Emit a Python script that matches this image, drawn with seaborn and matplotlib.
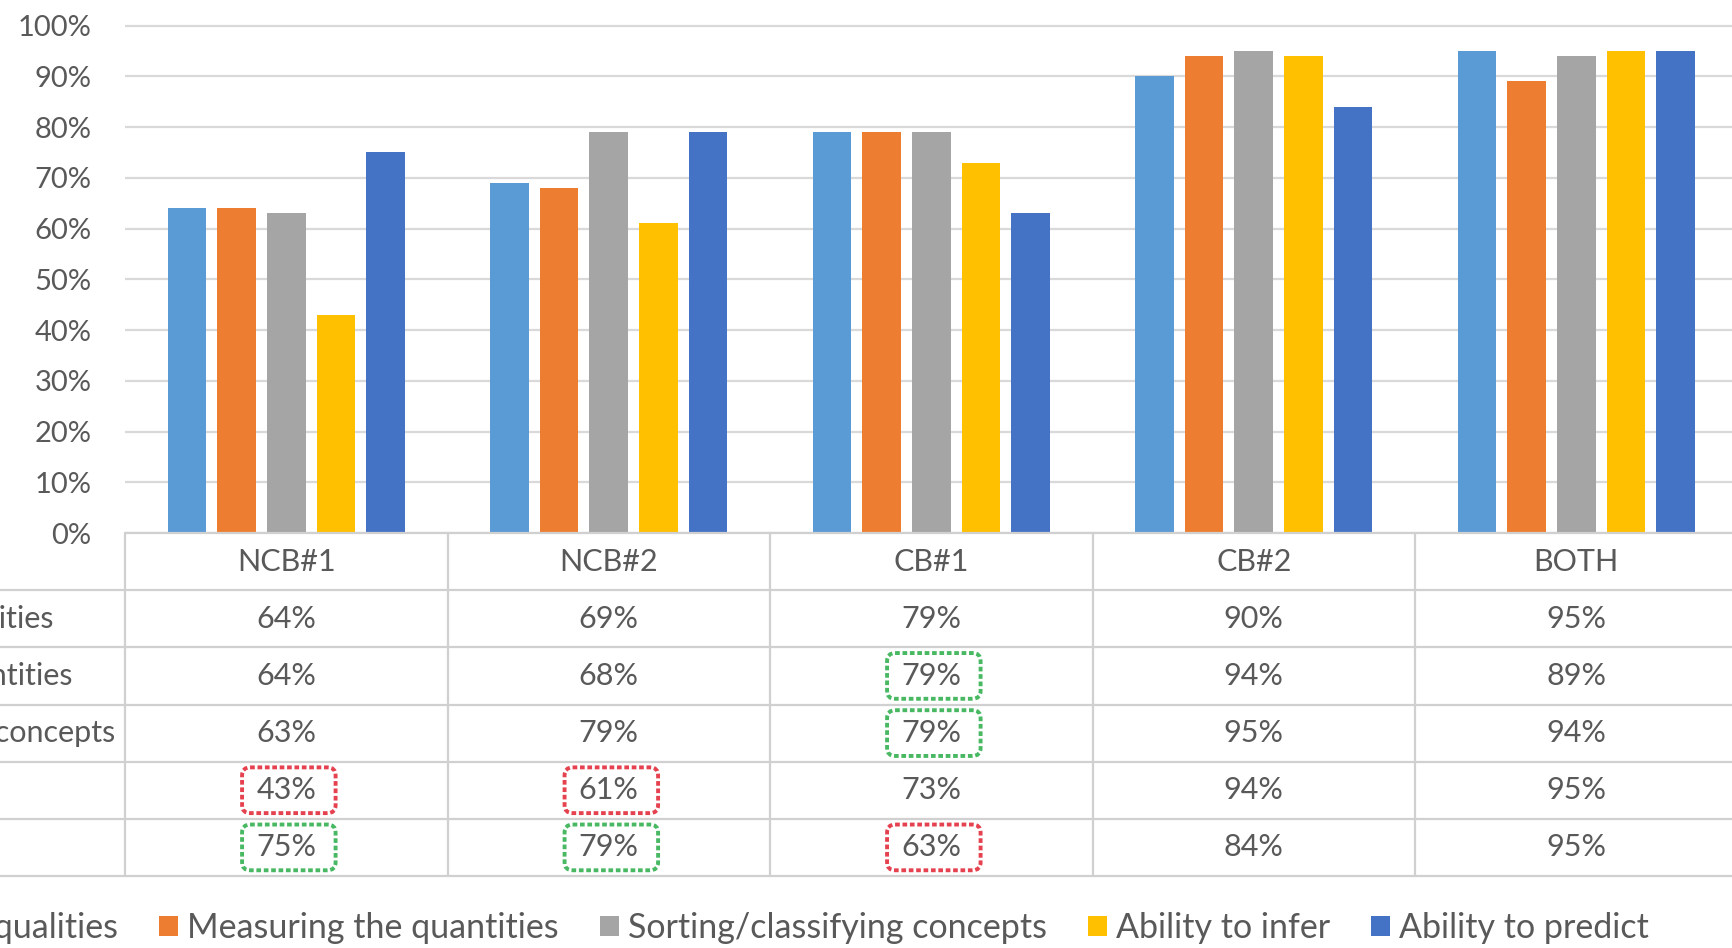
import matplotlib
matplotlib.use("Agg")
import matplotlib.pyplot as plt
import matplotlib.transforms as mtransforms
from matplotlib.patches import FancyBboxPatch, Patch
import pandas as pd
import seaborn as sns

# ---- data -------------------------------------------------------------
groups = ["NCB#1", "NCB#2", "CB#1", "CB#2", "BOTH"]
skills = ["Describing the qualities", "Measuring the quantities",
          "Sorting/classifying concepts", "Ability to infer", "Ability to predict"]
describing = [0.64, 0.69, 0.79, 0.90, 0.95]
measuring = [0.64, 0.68, 0.79, 0.94, 0.89]
sorting = [0.63, 0.79, 0.79, 0.95, 0.94]
infer = [0.43, 0.61, 0.73, 0.94, 0.95]
predict = [0.75, 0.79, 0.63, 0.84, 0.95]
y_ticks = [0.0, 0.1, 0.2, 0.3, 0.4, 0.5, 0.6, 0.7, 0.8, 0.9, 1.0]

# table cells circled in the original: (group, skill, colour)
highlights = [
    ("NCB#1", "Ability to infer", "red"),
    ("NCB#1", "Ability to predict", "green"),
    ("NCB#2", "Ability to infer", "red"),
    ("NCB#2", "Ability to predict", "green"),
    ("CB#1", "Measuring the quantities", "green"),
    ("CB#1", "Sorting/classifying concepts", "green"),
    ("CB#1", "Ability to predict", "red"),
]

palette = ["#5B9BD5", "#ED7D31", "#A5A5A5", "#FFC000", "#4472C4"]
box_colors = {"red": "#E5414F", "green": "#48B862"}
TXT = "#595959"
GRID = "#D9D9D9"

series = [describing, measuring, sorting, infer, predict]
df = pd.DataFrame(
    [(g, s, v) for s, vals in zip(skills, series) for g, v in zip(groups, vals)],
    columns=["group", "skill", "value"],
)

# ---- layout (pixels) ----------------------------------------------------
W, H = 1732, 948
left, col_w = 125, 322.5
top, zero, tab_bot = 24, 533, 876

sns.set_theme(style="white")
plt.rcParams["font.family"] = ["Lato", "DejaVu Sans"]

fig = plt.figure(figsize=(W / 100, H / 100), dpi=100)
ax = fig.add_axes([left / W, 1 - zero / H, 5 * col_w / W, (zero - top) / H])

sns.barplot(data=df, x="group", y="value", hue="skill", order=groups,
            hue_order=skills, palette=palette, saturation=1, width=0.77,
            gap=0.22, linewidth=0, legend=False, ax=ax)

ax.set_xlim(-0.5, 4.5)
ax.set_ylim(0, 1.003)
ax.set_yticks(y_ticks)
ax.set_yticklabels([f"{t:.0%}" for t in y_ticks])
ax.set_xticks([])
ax.set_xlabel("")
ax.set_ylabel("")
ax.yaxis.grid(True, color=GRID, lw=1.6)
ax.set_axisbelow(True)
sns.despine(ax=ax, left=True, bottom=True)
ax.tick_params(axis="y", length=0, pad=24, labelsize=21, labelcolor=TXT)

# ---- data table ---------------------------------------------------------
tab = fig.add_axes([left / W, 1 - tab_bot / H, 5 * col_w / W, (tab_bot - zero) / H])
tab.set_xlim(-0.5, 4.5)
tab.set_ylim(6, 0)
tab.axis("off")

line_kw = dict(color="#D0D0D0", lw=1.6, clip_on=False)
tab.plot([-0.5, 4.5], [0, 0], **line_kw)
for r in range(1, 7):
    tab.plot([-2, 4.5], [r, r], **line_kw)
for i in range(6):
    tab.plot([i - 0.5, i - 0.5], [0, 6], **line_kw)

for i, g in enumerate(groups):
    tab.text(i, 0.5, g, ha="center", va="center", fontsize=22, color=TXT)
for r, vals in enumerate(series):
    for i, v in enumerate(vals):
        tab.text(i, r + 1.5, f"{v:.0%}", ha="center", va="center",
                 fontsize=22, color=TXT)

# row labels, left aligned, running off the left edge like the cropped original
renderer = fig.canvas.get_renderer()
probe = fig.text(0, 0, skills[2], fontsize=22)
probe_w = probe.get_window_extent(renderer).width
probe.remove()
label_x = (115 - probe_w) / W
blend = mtransforms.blended_transform_factory(fig.transFigure, tab.transData)
for r, s in enumerate(skills):
    tab.text(label_x, r + 1.5, s, ha="left", va="center", fontsize=22,
             color=TXT, transform=blend, clip_on=False)

# dashed rounded boxes around highlighted cells
aspect = col_w / ((tab_bot - zero) / 6)
bw, bh = 0.29, 0.80
for g, s, c in highlights:
    i, r = groups.index(g), skills.index(s)
    box = FancyBboxPatch((i - bw / 2 + 0.008, r + 1.5 - bh / 2), bw, bh,
                         boxstyle="round,pad=0,rounding_size=0.025",
                         mutation_aspect=aspect, fc="none",
                         ec=box_colors[c], lw=2.8, ls=(0, (1.2, 0.7)))
    tab.add_patch(box)

# ---- legend -------------------------------------------------------------
handles = [Patch(facecolor=c, edgecolor="none") for c in palette]
fig.legend(handles, skills, loc="center right",
           bbox_to_anchor=(1666 / W, 1 - 928 / H), ncol=5, frameon=False,
           fontsize=24.5, handlelength=0.56, handleheight=0.56,
           handletextpad=0.27, columnspacing=1.2, borderpad=0,
           labelcolor=TXT)

fig.savefig("out.png", dpi=100)
